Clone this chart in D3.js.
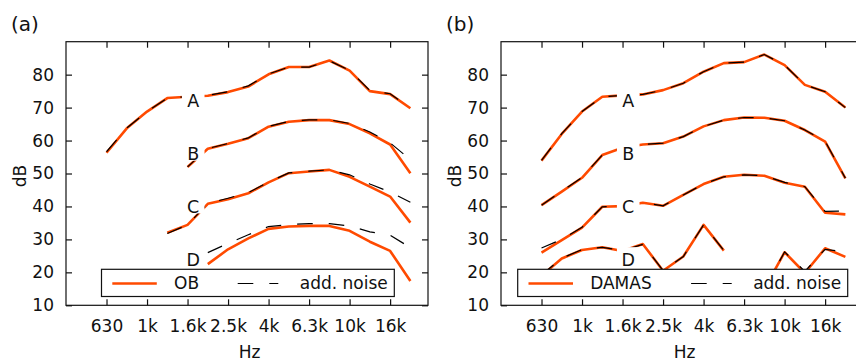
<!DOCTYPE html>
<html><head><meta charset="utf-8">
<script src="https://cdn.jsdelivr.net/npm/d3@7"></script>
<style>
html,body{margin:0;padding:0;background:#fff;}
svg{display:block;font-family:"DejaVu Sans",sans-serif;}
</style></head><body>
<svg id="chart" width="856" height="362"></svg>
<script>
// third-octave band centres (x categories)
const bands = ["630","800","1k","1.25k","1.6k","2k","2.5k","3.15k","4k","5k","6.3k","8k","10k","12.5k","16k","20k"];
const tickLabels = ["630","1k","1.6k","2.5k","4k","6.3k","10k","16k"];
const yTicks = [10,20,30,40,50,60,70,80];
const curveNames = ["A","B","C","D"];
const labelLevels = [72,56,40,24];

// panel (a): OB
const obA = [56.3,63.7,68.8,72.9,73.3,73.6,74.7,76.4,80.1,82.3,82.3,84.3,81.2,75.0,74.1,69.8];
const obB = [null,null,null,null,52.0,57.5,59.0,60.7,64.2,65.7,66.2,66.2,65.0,62.2,58.8,50.1];
const obC = [null,null,null,32.0,34.4,40.8,42.2,44.0,47.3,50.1,50.6,51.1,49.0,46.0,43.0,35.1];
const obD = [null,null,null,null,null,22.5,27.0,30.3,33.2,33.9,34.1,34.1,32.6,29.3,26.5,17.4];
// panel (a): OB with additional noise
const obNoiseA = [56.6,63.8,68.8,72.9,73.3,73.7,74.8,76.6,80.2,82.3,82.3,84.2,81.3,75.2,74.2,69.9];
const obNoiseB = [null,null,null,null,52.0,57.6,59.1,60.8,64.3,65.8,66.3,66.3,65.2,62.6,59.3,54.2];
const obNoiseC = [null,null,null,31.8,34.4,40.9,42.5,44.2,47.4,50.2,50.7,51.1,49.6,46.8,44.4,41.3];
const obNoiseD = [null,null,null,null,null,26.0,28.8,31.4,33.9,34.5,34.8,34.8,34.1,32.3,31.3,27.5];

// panel (b): DAMAS
const damasA = [53.9,62.0,68.8,73.3,73.7,74.0,75.3,77.4,80.9,83.5,83.8,86.1,82.9,76.9,74.8,70.0];
const damasB = [40.4,44.5,48.7,55.6,57.8,58.8,59.2,61.2,64.3,66.2,67.0,66.9,66.0,63.2,59.7,48.5];
const damasC = [26.0,29.8,33.6,39.9,40.1,41.1,40.2,43.5,46.8,49.0,49.6,49.3,47.2,46.0,38.1,37.6];
const damasD = [19.0,24.2,26.8,27.6,26.5,28.6,20.5,24.8,34.4,26.6,null,15.0,26.1,19.8,27.3,24.7];
// panel (b): DAMAS with additional noise
const damasNoiseA = [54.0,62.1,68.8,73.3,73.7,74.0,75.3,77.4,80.9,83.5,83.8,86.1,82.9,76.9,74.8,70.0];
const damasNoiseB = [40.4,44.6,48.8,55.6,57.8,58.8,59.2,61.2,64.3,66.2,67.0,66.9,66.0,63.2,59.8,48.6];
const damasNoiseC = [27.4,30.0,33.7,39.9,40.1,41.1,40.2,43.5,46.8,49.0,49.6,49.3,47.3,46.0,38.5,38.6];
const damasNoiseD = [19.2,24.3,26.9,27.6,26.6,28.5,20.6,24.8,34.4,26.6,null,15.0,26.2,20.3,27.0,26.2];

const panels = [
  {tag:"(a)", left:66, tagX:11, name:"OB",
   main:[obA,obB,obC,obD], noise:[obNoiseA,obNoiseB,obNoiseC,obNoiseD],
   legLeft:101.5, legW:292.8},
  {tag:"(b)", left:501, tagX:446, name:"DAMAS",
   main:[damasA,damasB,damasC,damasD], noise:[damasNoiseA,damasNoiseB,damasNoiseC,damasNoiseD],
   legLeft:517.7, legW:330}
];

const svg = d3.select("#chart");
const PW = 362, TOP = 41.7, BOT = 305.3;
const ORANGE = "#ff4a00", INK = "#111";
const FS = 17;
const y = d3.scaleLinear().domain([10,90]).range([BOT, TOP]);

function styleAxis(g){
  g.select(".domain").remove();
  g.selectAll(".tick line").attr("stroke", INK).attr("stroke-width", 1.2);
  g.selectAll(".tick text").attr("fill", INK).attr("font-size", FS)
    .attr("font-family", '"DejaVu Sans", sans-serif');
  g.attr("font-family", null).attr("font-size", null);
}

panels.forEach(p => {
  const L = p.left;
  const x = d3.scaleLinear().domain([-2, 15.87]).range([L, L + PW]);
  const g = svg.append("g");
  const tickIdx = tickLabels.map(t => bands.indexOf(t));

  g.append("g").attr("transform", `translate(0,${BOT})`)
    .call(d3.axisBottom(x).tickValues(tickIdx).tickFormat(i => bands[i]).tickSize(-6).tickPadding(15))
    .call(styleAxis);
  g.append("g").attr("transform", `translate(0,${TOP})`)
    .call(d3.axisTop(x).tickValues(tickIdx).tickFormat("").tickSize(-6))
    .call(styleAxis);
  g.append("g").attr("transform", `translate(${L},0)`)
    .call(d3.axisLeft(y).tickValues(yTicks).tickSize(-6).tickPadding(12))
    .call(styleAxis);
  g.append("g").attr("transform", `translate(${L + PW},0)`)
    .call(d3.axisRight(y).tickValues(yTicks).tickFormat("").tickSize(-6))
    .call(styleAxis);

  g.append("rect").attr("x", L).attr("y", TOP).attr("width", PW).attr("height", BOT - TOP)
    .attr("fill", "none").attr("stroke", INK).attr("stroke-width", 1.2);

  const line = d3.line().defined(d => d != null).x((d, i) => x(i)).y(d => y(d));
  p.main.forEach((s, k) => {
    g.append("path").datum(s).attr("d", line).attr("fill", "none")
      .attr("stroke", ORANGE).attr("stroke-width", 2.6).attr("stroke-linejoin", "round");
    g.append("path").datum(p.noise[k]).attr("d", line).attr("fill", "none")
      .attr("stroke", "#000").attr("stroke-width", 1.2).attr("stroke-dasharray", "15.6,16");
  });

  // curve labels with white background boxes
  curveNames.forEach((nm, k) => {
    const cx = x(4.28), cy = y(labelLevels[k]);
    g.append("rect").attr("x", cx - 11.3).attr("y", cy - 12).attr("width", 22.6).attr("height", 19)
      .attr("fill", "#fff");
    g.append("text").attr("x", cx).attr("y", cy).attr("dy", "0.365em")
      .attr("text-anchor", "middle").attr("font-size", 17.5).attr("fill", INK).text(nm);
  });

  // legend
  const lg = g.append("g");
  const lx = p.legLeft, ly = 269.3, lh = 27.2, ls = 283.5;
  lg.append("rect").attr("x", lx).attr("y", ly).attr("width", p.legW).attr("height", lh)
    .attr("fill", "#fff").attr("stroke", INK).attr("stroke-width", 1.2);
  lg.append("line").attr("x1", lx + 10.8).attr("x2", lx + 55.3).attr("y1", ls).attr("y2", ls)
    .attr("stroke", ORANGE).attr("stroke-width", 2.6);
  lg.append("text").attr("x", lx + 72.5).attr("y", 289).attr("font-size", FS).attr("fill", INK).text(p.name);
  const rx = lx + p.legW;
  lg.append("line").attr("x1", rx - 156.6).attr("x2", rx - 116).attr("y1", ls).attr("y2", ls)
    .attr("stroke", "#000").attr("stroke-width", 1.2).attr("stroke-dasharray", "15.6,16");
  lg.append("text").attr("x", rx - 6.5).attr("y", 289).attr("text-anchor", "end")
    .attr("font-size", FS).attr("fill", INK).text("add. noise");

  // axis titles
  g.append("text").attr("x", L + 183.5).attr("y", 357.5).attr("text-anchor", "middle")
    .attr("font-size", FS).attr("fill", INK).text("Hz");
  g.append("text").attr("transform", `translate(${L - 46.5},176) rotate(-90)`)
    .attr("dy", "0.36em").attr("text-anchor", "middle")
    .attr("font-size", FS).attr("fill", INK).text("dB");

  // panel tag
  g.append("text").attr("x", p.tagX).attr("y", 31).attr("font-size", 20).attr("fill", INK).text(p.tag);
});
</script>
</body></html>
